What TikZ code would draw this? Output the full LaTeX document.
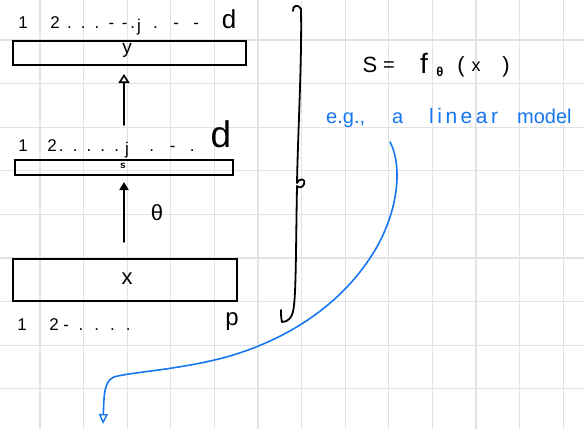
\documentclass[tikz,border=0pt]{standalone}
\usepackage{fontspec}
\setmainfont{Liberation Sans}
\usetikzlibrary{arrows.meta}
\definecolor{gridc}{HTML}{E3E3E3}
\definecolor{penblue}{HTML}{1677F0}
\begin{document}
\begin{tikzpicture}[x=1pt,y=-1pt,
  hand/.style={line width=1.8pt,line cap=round,line join=round},
  vecbox/.style={draw,line width=1.8pt,inner sep=0pt,anchor=north west},
  lbl/.style={font=\fontsize{17}{17}\selectfont,inner sep=0pt},
  bluetxt/.style={font=\fontsize{20}{20}\selectfont,text=penblue,inner sep=0pt,anchor=base west}]
\useasboundingbox (0,0) rectangle (584,429);
\fill[white] (0,0) rectangle (584,429);
% grid
\foreach \k in {0,...,12} {\draw[gridc,line width=1.3pt] ({40+43.6*\k},0) -- ({40+43.6*\k},429);}
\foreach \k in {0,...,8} {\draw[gridc,line width=1.3pt] (0,{40+43.6*\k}) -- (584,{40+43.6*\k});}
% boxes
\node[vecbox,minimum width=233pt,minimum height=24pt] (Y) at (12,40) {};
\node[lbl,font=\fontsize{19}{19}\selectfont] (ylbl) at (127,50) {y};
\node[vecbox,minimum width=218pt,minimum height=15pt] (S) at (14,159) {};
\node[font=\fontsize{10}{10}\selectfont\bfseries,inner sep=0pt] (slbl) at (123,166) {s};
\node[vecbox,minimum width=224pt,minimum height=42pt] (X) at (12,258) {};
\node[lbl,font=\fontsize{22}{22}\selectfont] (xlbl) at (127,279) {x};
% index labels (top)
\node[lbl,anchor=base] (t1) at (23,28) {1};
\node[lbl,anchor=base] (t2) at (55,28) {2};
\node[lbl,anchor=base] (tdots) at (101,28) {.\, .\, .\, -\, -\,.};
\node[lbl,anchor=base] (tj) at (139,31) {j};
\node[lbl,anchor=base] (tdots2) at (176,28) {.\;\; -\;\; -};
\node[lbl,anchor=base,font=\fontsize{26}{26}\selectfont] (td) at (229,28) {d};
% index labels (middle)
\node[lbl,anchor=base] (m1) at (23,151) {1};
\node[lbl,anchor=base] (m2) at (52,151) {2};
\node[lbl,anchor=base] (mdots) at (89,151) {.\, .\, .\, .\, .};
\node[lbl,anchor=base] (mj) at (127,154) {j};
\node[lbl,anchor=base] (mdots2) at (172,151) {.\;\; -\;\; .};
\node[lbl,anchor=base,font=\fontsize{37}{37}\selectfont] (md) at (221,147) {d};
% index labels (bottom)
\node[lbl,anchor=base] (b1) at (22,330) {1};
\node[lbl,anchor=base] (b2) at (54,330) {2};
\node[lbl,anchor=base] (bdots) at (97,330) {-\; .\; .\; .\; .};
\node[lbl,anchor=base,font=\fontsize{24}{24}\selectfont] (bp) at (232,325) {p};
% arrows
\coordinate (a1s) at (124,125);
\coordinate (a1e) at (124,74);
\draw[hand,-{Triangle[open,length=9pt,width=11pt,line width=1.6pt]}] (a1s) -- (a1e);
\coordinate (a2s) at (124,242);
\coordinate (a2e) at (124,182);
\draw[hand,-{Triangle[length=8pt,width=9pt]}] (a2s) -- (a2e);
\node[lbl,font=\fontsize{22}{22}\selectfont] (theta) at (157,213) {θ};
% brace
\draw[hand] (293,11) .. controls (292,5) and (299,4) .. (301,9)
  .. controls (302,60) and (298,130) .. (297,183)
  .. controls (299,178) and (306,178) .. (304,184)
  .. controls (303,188) and (298,188) .. (297,186)
  .. controls (296,240) and (296,290) .. (294,305)
  .. controls (293,318) and (288,322) .. (282,322)
  .. controls (281,318) and (281,314) .. (281,310);
% formula
\node[lbl,font=\fontsize{22}{22}\selectfont,anchor=base] (fs) at (370,72) {S};
\node[lbl,font=\fontsize{20}{20}\selectfont,anchor=base] (feq) at (389,71) {=};
\node[lbl,font=\fontsize{28}{28}\selectfont,anchor=base] (ff) at (424,73) {f};
\node[lbl,font=\fontsize{13}{13}\selectfont\bfseries,anchor=base] (fth) at (440,76) {θ};
\node[lbl,font=\fontsize{22}{22}\selectfont,anchor=base] (fl) at (461,72) {(};
\node[lbl,font=\fontsize{18}{18}\selectfont,anchor=base] (fx) at (476,71) {x};
\node[lbl,font=\fontsize{22}{22}\selectfont,anchor=base] (fr) at (506,72) {)};
% blue text
\node[bluetxt] (eg1) at (326,123) {e.g.,};
\node[bluetxt] (eg2) at (392,123) {a};
\node[bluetxt,font=\fontsize{21}{21}\selectfont] (eg3) at (429,123) {l\,i\,n\,e\,a\,r};
\node[bluetxt] (eg4) at (517,123) {model};
% blue curve
\coordinate (c0) at (390,142);
\coordinate (c1) at (103,424);
\draw[penblue,line width=1.6pt,line cap=round,-{Triangle[open,length=10pt,width=9pt,line width=1.4pt]}]
  (c0) .. controls (400,160) and (402,200) .. (378,245)
  .. controls (350,295) and (300,335) .. (230,356)
  .. controls (180,370) and (130,372) .. (114,377)
  .. controls (104,381) and (104,395) .. (c1);
\end{tikzpicture}
\end{document}
